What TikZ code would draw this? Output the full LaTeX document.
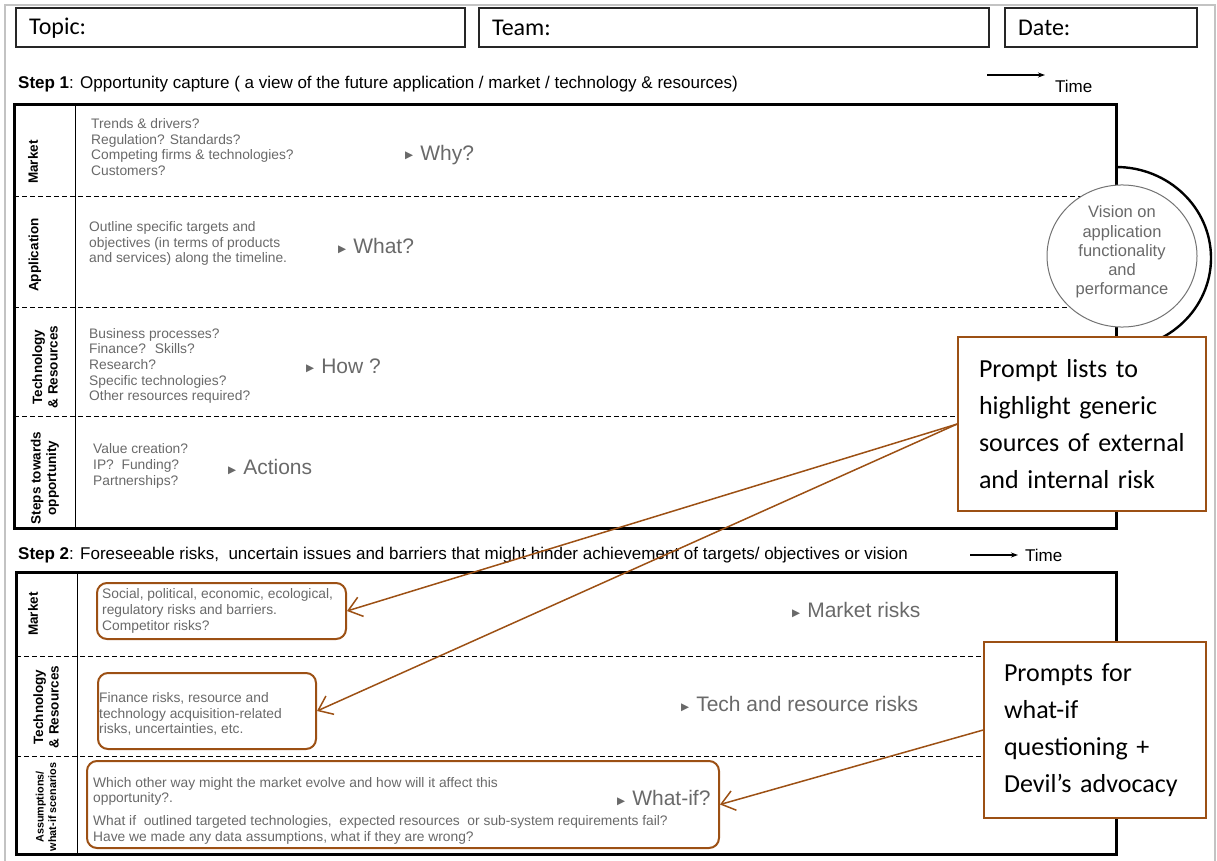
\documentclass[tikz,border=0pt]{standalone}
\usepackage{fontspec}
\setmainfont{Liberation Sans}
\newfontfamily\calibri{Carlito}
\newfontfamily\glyphs{DejaVu Sans}
\usetikzlibrary{arrows.meta,shapes.geometric}

\definecolor{rust}{RGB}{156,80,20}
\definecolor{hint}{RGB}{105,105,105}
\definecolor{sheet}{RGB}{195,195,195}

% small pointer in front of the cue words
\newcommand{\cue}[1]{{\glyphs\fontsize{10.5}{11}\selectfont\raisebox{1.5pt}{▶}}\hspace{7pt}#1}

\begin{document}
\begin{tikzpicture}[x=1pt,y=-1pt]
\tikzstyle{every node}+=[inner sep=0pt]
\tikzstyle{field}=[draw=black!85,line width=1.2pt]
\tikzstyle{fieldtext}=[anchor=west,font=\calibri\fontsize{24}{28}\selectfont]
\tikzstyle{steptext}=[anchor=west,font=\fontsize{17}{20}\selectfont]
\tikzstyle{rowlabel}=[rotate=90,align=center,font=\bfseries\fontsize{13.5}{15.5}\selectfont]
\tikzstyle{hinttext}=[anchor=west,align=left,text=hint,font=\fontsize{13.8}{15.7}\selectfont]
\tikzstyle{cuetext}=[anchor=west,text=hint,font=\fontsize{21}{24}\selectfont]
\tikzstyle{rowsep}=[dash pattern=on 5pt off 3pt,line width=1pt]
\tikzstyle{riskbox}=[draw=rust,line width=2pt,rounded corners=10pt]
\tikzstyle{promptbox}=[draw=rust,fill=white,line width=1.5pt,align=left,inner xsep=21pt,font=\calibri\fontsize{26}{37}\selectfont]
\tikzstyle{riskarrow}=[draw=rust,line width=1.5pt,-{Straight Barb[length=13pt,width=20pt]}]
\tikzstyle{timearrow}=[line width=1.2pt,-{Stealth[length=7pt,width=5pt]}]

\useasboundingbox (0,0) rectangle (1217,861);
\draw[sheet,line width=1.5pt] (5,861) -- (5,5) -- (1215,5) -- (1215,861);

% header fields
\node[field,minimum width=449,minimum height=39] (topic) at (240.5,27.5) {};
\node[field,minimum width=510,minimum height=39] (team) at (734,27.5) {};
\node[field,minimum width=192,minimum height=39] (date) at (1101,27.5) {};
\node[fieldtext] (topiclbl) at (29,28) {Topic:};
\node[fieldtext] (teamlbl) at (492,28) {Team:};
\node[fieldtext] (datelbl) at (1018,28) {Date:};

% step 1
\node[steptext] (step1) at (18,84) {\textbf{Step 1}: Opportunity capture ( a view of the future application / market / technology \& resources)};
\coordinate (t1a) at (987,75);
\coordinate (t1b) at (1045,75);
\draw[timearrow] (t1a) -- (t1b);
\node[steptext] (time1) at (1055,86) {Time};

\foreach \y in {196,307,416}
  \draw[rowsep] (14,\y) -- (1116,\y);
\draw[line width=1pt] (75,105) -- (75,528);
\draw[line width=3pt] (14,105) rectangle (1116,528);

\node[rowlabel] (m1) at (33,162) {Market};
\node[rowlabel] (a1) at (35,255) {Application};
\node[rowlabel] (t1) at (45,367) {Technology\\\& Resources};
\node[rowlabel] (s1) at (45,478) {Steps towards\\opportunity};

\node[hinttext] (mhint) at (91,147) {Trends \& drivers?\\Regulation? Standards?\\Competing firms \& technologies?\\Customers?};
\node[cuetext] (why) at (405,155) {\cue{Why?}};
\node[hinttext] (ahint) at (89,243.5) {Outline specific targets and\\objectives (in terms of products\\and services) along the timeline.};
\node[cuetext] (what) at (338,246) {\cue{What?}};
\node[hinttext] (thint) at (89,366) {Business processes?\\Finance?~ Skills?\\Research?\\Specific technologies?\\Other resources required?};
\node[cuetext] (how) at (306,366) {\cue{How ?}};
\node[hinttext] (shint) at (93,466) {Value creation?\\IP?~ Funding?\\Partnerships?};
\node[cuetext] (act) at (228,467) {\cue{Actions}};

% vision bubble on the right edge
\draw[line width=2.4pt] (1116,167) arc[start angle=-90,end angle=90,x radius=95,y radius=91];
\node[ellipse,draw=black!55,fill=white,line width=1pt,minimum width=150,minimum height=120,
  align=center,text=hint,font=\fontsize{16.5}{19.3}\selectfont] (vision) at (1122,256)
  {Vision on\\application\\functionality\\and\\performance\\[-8pt]};

\node[promptbox,text width=206,minimum height=174] (riskcue) at (1082,424)
  {Prompt lists to\\highlight generic\\sources of external\\and internal risk};

% step 2
\node[steptext] (step2) at (18,555) {\textbf{Step 2}: Foreseeable risks,~ uncertain issues and barriers that might hinder achievement of targets/ objectives or vision};
\coordinate (t2a) at (970,555);
\coordinate (t2b) at (1018,555);
\draw[timearrow] (t2a) -- (t2b);
\node[steptext] (time2) at (1025,555) {Time};

\foreach \y in {656,756}
  \draw[rowsep] (16,\y) -- (1116,\y);
\draw[line width=1pt] (77,572) -- (77,854);
\draw[line width=3pt] (16,572) rectangle (1116,854);

\node[rowlabel] (m2) at (33,614) {Market};
\node[rowlabel] (t2) at (46,707) {Technology\\\& Resources};
\node[rowlabel,font=\bfseries\fontsize{10.8}{12.5}\selectfont] (w2) at (46,807) {Assumptions/\\what-if scenarios};

\node[riskbox,minimum width=249,minimum height=56] (mrisk) at (221.5,611) {};
\node[hinttext] (mrtext) at (102,611) {Social, political, economic, ecological,\\regulatory risks and barriers.\\Competitor risks?};
\node[cuetext] (mcue) at (792,610) {\cue{Market risks}};

\node[riskbox,minimum width=218,minimum height=76] (trisk) at (207,711) {};
\node[hinttext] (trtext) at (99,714) {Finance risks, resource and\\technology acquisition-related\\risks, uncertainties, etc.};
\node[cuetext] (tcue) at (681,704) {\cue{Tech and resource risks}};

\node[riskbox,minimum width=632,minimum height=87] (wrisk) at (403,804.5) {};
\node[hinttext] (wrtext) at (93,810.5) {Which other way might the market evolve and how will it affect this\\opportunity?.\\[7pt]What if~ outlined targeted technologies,~ expected resources~ or sub-system requirements fail?\\Have we made any data assumptions, what if they are wrong?};
\node[cuetext] (wcue) at (617,798) {\cue{What-if?}};

\node[promptbox,inner xsep=20pt,text width=182,minimum height=176] (whatifcue) at (1095,730)
  {Prompts for\\what-if\\questioning +\\Devil’s advocacy};

% prompt arrows
\draw[riskarrow] (riskcue.west) -- (mrisk.east);
\draw[riskarrow] (riskcue.west) -- (trisk.east);
\draw[riskarrow] (whatifcue.west) -- (wrisk.east);
\end{tikzpicture}
\end{document}
